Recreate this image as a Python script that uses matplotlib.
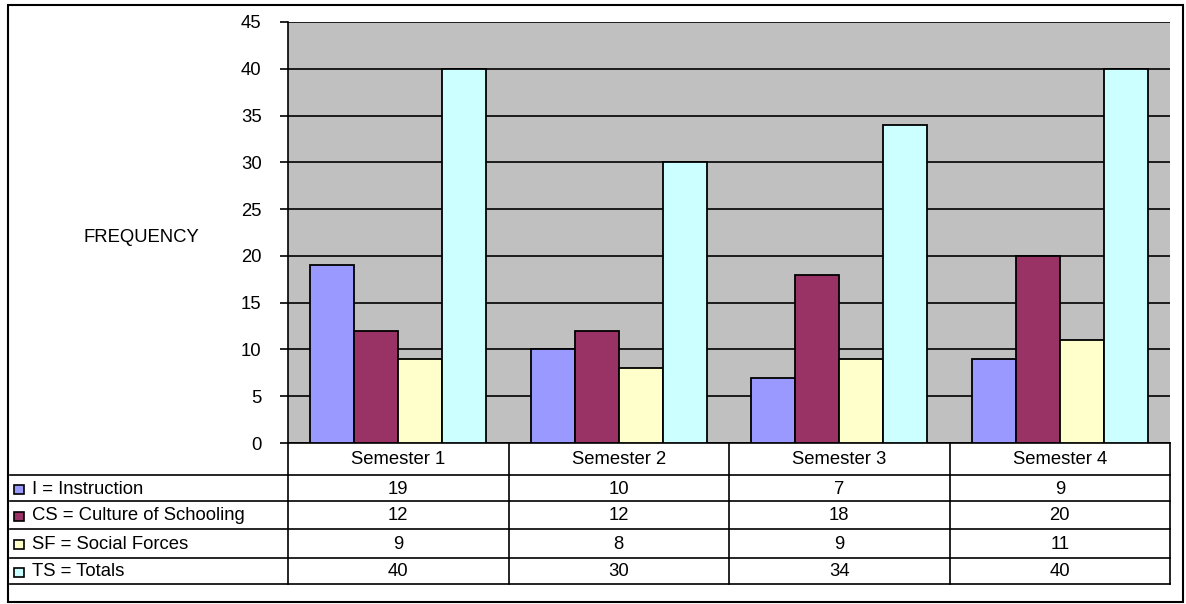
import numpy as np
import matplotlib.pyplot as plt
from matplotlib.patches import Rectangle

plt.rcParams['font.family'] = ['Liberation Sans', 'DejaVu Sans']

semesters = ["Semester 1", "Semester 2", "Semester 3", "Semester 4"]
series = ["I = Instruction", "CS = Culture of Schooling", "SF = Social Forces", "TS = Totals"]
instruction = [19, 10, 7, 9]
culture = [12, 12, 18, 20]
social = [9, 8, 9, 11]
totals = [40, 30, 34, 40]
colors = ["#9999FF", "#993366", "#FFFFCC", "#CCFFFF"]

values = [instruction, culture, social, totals]
fs = 13.3

W, H = 1186, 604
fig = plt.figure(figsize=(W / 100, H / 100), dpi=100)

# overlay axes in pixel coords for table + frame
over = fig.add_axes([0, 0, 1, 1])
over.set_xlim(0, W)
over.set_ylim(H, 0)
over.axis("off")

left, right, top, bottom = 288, 1170, 22, 443
ax = fig.add_axes([left / W, 1 - bottom / H, (right - left) / W, (bottom - top) / H])
ax.set_facecolor("#C0C0C0")
ax.set_xlim(0, len(semesters))
ax.set_ylim(0, 45)
ax.set_yticks(np.arange(0, 46, 5))
ax.yaxis.grid(True, color="black", linewidth=1.2)
ax.set_axisbelow(True)
ax.set_xticks([])
ax.tick_params(axis="y", length=6, width=1.2, direction="out", labelsize=fs, pad=13)
for s in ["top", "right"]:
    ax.spines[s].set_visible(False)
ax.spines["left"].set_linewidth(1.2)
ax.spines["bottom"].set_linewidth(1.2)

x = np.arange(len(semesters))
bw = 0.2
for i, (vals, c) in enumerate(zip(values, colors)):
    ax.bar(x + 0.1 + bw * i, vals, width=bw, align="edge", color=c,
           edgecolor="black", linewidth=1.3, zorder=3)

over.text(141, 237, "FREQUENCY", fontsize=fs, ha="center", va="center")

# data table
row_y = [443, 475, 501, 529, 558, 584]
col_w = (right - left) / len(semesters)
col_x = [left + col_w * i for i in range(len(semesters) + 1)]
tleft = 10
lw = 1.2
over.plot([left, left], [bottom, row_y[-1]], color="black", lw=lw)
over.plot([right, right], [bottom, row_y[-1]], color="black", lw=lw)
for cx in col_x[1:-1]:
    over.plot([cx, cx], [bottom, row_y[-1]], color="black", lw=lw)
for ry in row_y[1:]:
    over.plot([tleft, right], [ry, ry], color="black", lw=lw)
for j, s in enumerate(semesters):
    over.text((col_x[j] + col_x[j + 1]) / 2, (row_y[0] + row_y[1]) / 2 + 1, s,
              fontsize=fs, ha="center", va="center")
for i, (name, vals, c) in enumerate(zip(series, values, colors)):
    yc = (row_y[i + 1] + row_y[i + 2]) / 2 + 1
    over.add_patch(Rectangle((14, yc - 4.5), 10, 9, facecolor=c, edgecolor="black", lw=1.2))
    over.text(32, yc, name, fontsize=fs, ha="left", va="center")
    for j, v in enumerate(vals):
        over.text((col_x[j] + col_x[j + 1]) / 2, yc, str(v), fontsize=fs,
                  ha="center", va="center")

# outer frame
over.add_patch(Rectangle((8, 5), 1175, 597, fill=False, edgecolor="black", lw=1.5))

fig.savefig("out.png", dpi=100)
